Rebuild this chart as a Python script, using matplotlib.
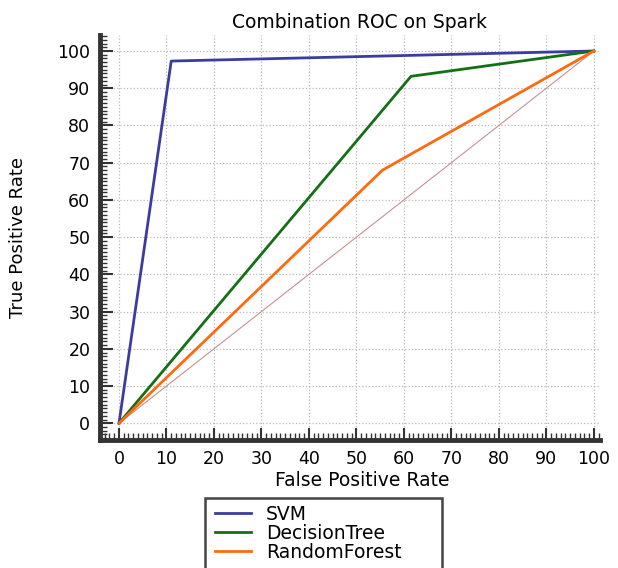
import matplotlib
matplotlib.use("Agg")
import matplotlib.pyplot as plt
from matplotlib.patches import Rectangle
from matplotlib.ticker import MultipleLocator

plt.rcParams["font.family"] = ["DejaVu Sans"]

# ROC points (false positive rate %, true positive rate %)
svm_fpr = [0, 11, 100]
svm_tpr = [0, 97.3, 100]
dt_fpr = [0, 61.5, 100]
dt_tpr = [0, 93.2, 100]
rf_fpr = [0, 55.5, 100]
rf_tpr = [0, 68, 100]
diag = [0, 100]
ticks = list(range(0, 101, 10))

W, H = 618, 568
fig = plt.figure(figsize=(W / 100, H / 100), dpi=100)
ax = fig.add_axes([100 / W, 1 - 440 / H, 500 / W, 405 / H])

ax.plot(diag, diag, color="#c89090", linewidth=0.8, zorder=2)
ax.plot(svm_fpr, svm_tpr, color="#3c3ca0", linewidth=2, label="SVM", zorder=3)
ax.plot(dt_fpr, dt_tpr, color="#157015", linewidth=2, label="DecisionTree", zorder=3)
ax.plot(rf_fpr, rf_tpr, color="#ff6a10", linewidth=2, label="RandomForest", zorder=3)

ax.set_xlim(-4, 101.3)
ax.set_ylim(-4.5, 104.3)
ax.set_xticks(ticks)
ax.set_yticks(ticks)
ax.xaxis.set_minor_locator(MultipleLocator(1))
ax.yaxis.set_minor_locator(MultipleLocator(1))
ax.tick_params(which="major", direction="in", length=9, width=1.5, color="#333333",
               labelsize=12.5, pad=7)
ax.tick_params(which="minor", direction="in", length=5, width=1, color="#333333")
ax.grid(True, which="major", linestyle=":", color="#b8b8b8", linewidth=0.9)

for side in ["top", "right"]:
    ax.spines[side].set_visible(False)
for side in ["left", "bottom"]:
    ax.spines[side].set_linewidth(3.5)
    ax.spines[side].set_color("#333333")

ax.set_title("Combination ROC on Spark", fontsize=13.5, pad=5, x=0.52)
ax.set_xlabel("False Positive Rate", fontsize=13.5)
ax.xaxis.set_label_coords(0.525, -0.077)
ax.set_ylabel("True Positive Rate", fontsize=13)
ax.yaxis.set_label_coords(-0.146, 0.5)

# legend box runs off the bottom of the figure, as in the original
fig.add_artist(Rectangle((205 / W, -0.05), 237 / W, 1 - 498 / H + 0.05,
                         transform=fig.transFigure, fill=False,
                         edgecolor="#444444", linewidth=1.8, clip_on=False))
fig.legend(loc="upper left", bbox_to_anchor=(215 / W, 1 - 505 / H), fontsize=13.5,
           frameon=False, handlelength=1.9, handletextpad=0.8, borderpad=0,
           borderaxespad=0, labelspacing=0.0)

fig.savefig("out.png", dpi=100)
